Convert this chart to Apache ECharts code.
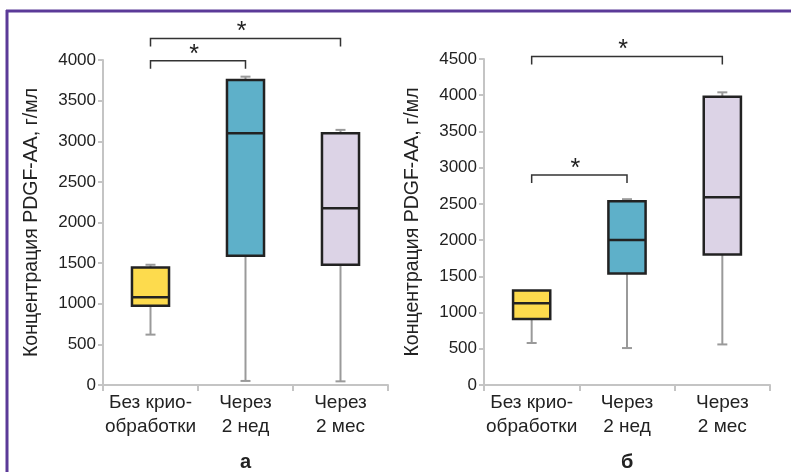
<!DOCTYPE html>
<html><head><meta charset="utf-8">
<script src="https://cdn.jsdelivr.net/npm/echarts@6/dist/echarts.min.js"></script>
<style>html,body{margin:0;padding:0;background:#fff}#c{width:791px;height:472px}</style>
</head><body><div id="c"></div>
<script>
const categories = ['Без крио-\nобработки', 'Через\n2 нед', 'Через\n2 мес'];
const boxColors = ['#fddb4d', '#5eb0c9', '#dcd3e6'];
// [min, Q1, median, Q3, max]
const statsA = [
  [620, 975, 1080, 1445, 1480],
  [50, 1590, 3100, 3755, 3795],
  [45, 1480, 2175, 3100, 3140]
];
const statsB = [
  [580, 910, 1130, 1305, 1305],
  [510, 1540, 2000, 2535, 2565],
  [560, 1800, 2590, 3980, 4040]
];
// significance brackets: [from category, to category, bracket level]
const sigA = [[0, 2, 4265], [0, 1, 3990]];
const sigB = [[0, 2, 4535], [0, 1, 2900]];
const yNameText = 'Концентрация PDGF-AA, г/мл';
const panelLabels = ['а', 'б'];

const FONT = "'Liberation Sans', Arial, sans-serif";
const chart = echarts.init(document.getElementById('c'), null, {renderer: 'canvas'});

function renderBox(params, api) {
  const i = api.value(0);
  const mn = api.value(1), q1 = api.value(2), md = api.value(3), q3 = api.value(4), mx = api.value(5);
  const x = api.coord([i, md])[0];
  const w = api.size([1, 0])[0] * 0.39;
  const y = v => api.coord([i, v])[1];
  const wh = {stroke: '#9a9a9a', lineWidth: 2};
  const ch = [];
  ch.push({type: 'line', shape: {x1: x, y1: y(mn), x2: x, y2: y(q1)}, style: wh});
  ch.push({type: 'line', shape: {x1: x - 5, y1: y(mn), x2: x + 5, y2: y(mn)}, style: wh});
  if (mx > q3) {
    ch.push({type: 'line', shape: {x1: x, y1: y(mx), x2: x, y2: y(q3)}, style: wh});
    ch.push({type: 'line', shape: {x1: x - 5, y1: y(mx), x2: x + 5, y2: y(mx)}, style: wh});
  }
  ch.push({type: 'rect', shape: {x: x - w / 2, y: y(q3), width: w, height: y(q1) - y(q3)},
    style: {fill: boxColors[i], stroke: '#222', lineWidth: 2.5}});
  ch.push({type: 'line', shape: {x1: x - w / 2, y1: y(md), x2: x + w / 2, y2: y(md)},
    style: {stroke: '#222', lineWidth: 2.5}});
  return {type: 'group', children: ch};
}

function renderSig(params, api) {
  const a = api.coord([api.value(0), api.value(2)]);
  const b = api.coord([api.value(1), api.value(2)]);
  const st = {stroke: '#333', lineWidth: 1.5, fill: null};
  return {type: 'group', children: [
    {type: 'polyline', shape: {points: [[a[0], a[1] + 8], [a[0], a[1]], [b[0], b[1]], [b[0], b[1] + 8]]}, style: st},
    {type: 'text', style: {text: '*', x: (a[0] + b[0]) / 2 - 4, y: a[1] - 6, textAlign: 'center', textVerticalAlign: 'middle',
      fontSize: 25, fontFamily: FONT, fill: '#222'}}
  ]};
}

function xAx(gi) {
  return {type: 'category', gridIndex: gi, data: categories,
    axisLine: {lineStyle: {color: '#c4c4c4', width: 2}},
    axisTick: {show: true, length: 6, lineStyle: {color: '#c4c4c4', width: 2}},
    axisLabel: {interval: 0, fontSize: 19, lineHeight: 24, color: '#222', fontFamily: FONT, margin: 6},
    splitLine: {show: false}};
}
function yAx(gi, max) {
  return {type: 'value', gridIndex: gi, min: 0, max: max, interval: 500,
    name: yNameText, nameLocation: 'middle', nameRotate: 90, nameGap: 61,
    nameTextStyle: {fontSize: 19.5, color: '#222', fontFamily: FONT},
    axisLine: {show: true, lineStyle: {color: '#c4c4c4', width: 2}},
    axisTick: {show: true, length: 5, lineStyle: {color: '#c4c4c4', width: 2}},
    axisLabel: {fontSize: 17, color: '#222', fontFamily: FONT, margin: 7, formatter: v => String(v)},
    splitLine: {show: false}};
}

const toData = s => s.map((r, i) => [i].concat(r));

chart.setOption({
  animation: false,
  grid: [
    {left: 103, right: 403, top: 60, bottom: 87},
    {left: 484, right: 21, top: 59, bottom: 87}
  ],
  xAxis: [xAx(0), xAx(1)],
  yAxis: [yAx(0, 4000), yAx(1, 4500)],
  series: [
    {type: 'custom', xAxisIndex: 0, yAxisIndex: 0, renderItem: renderBox, data: toData(statsA),
      encode: {x: 0, y: [1, 2, 3, 4, 5]}, clip: false},
    {type: 'custom', xAxisIndex: 1, yAxisIndex: 1, renderItem: renderBox, data: toData(statsB),
      encode: {x: 0, y: [1, 2, 3, 4, 5]}, clip: false},
    {type: 'custom', xAxisIndex: 0, yAxisIndex: 0, renderItem: renderSig, data: sigA,
      encode: {x: [0, 1], y: 2}, clip: false},
    {type: 'custom', xAxisIndex: 1, yAxisIndex: 1, renderItem: renderSig, data: sigB,
      encode: {x: [0, 1], y: 2}, clip: false}
  ],
  graphic: [
    {type: 'line', shape: {x1: 6, y1: 11, x2: 791, y2: 11}, style: {stroke: '#5b3a98', lineWidth: 3}},
    {type: 'line', shape: {x1: 7, y1: 10, x2: 7, y2: 472}, style: {stroke: '#5b3a98', lineWidth: 3}},
    {type: 'text', left: 240, top: 452, style: {text: panelLabels[0], fontSize: 20, fontWeight: 'bold', fontFamily: FONT, fill: '#222'}},
    {type: 'text', left: 621, top: 452, style: {text: panelLabels[1], fontSize: 20, fontWeight: 'bold', fontFamily: FONT, fill: '#222'}}
  ]
});
</script></body></html>
